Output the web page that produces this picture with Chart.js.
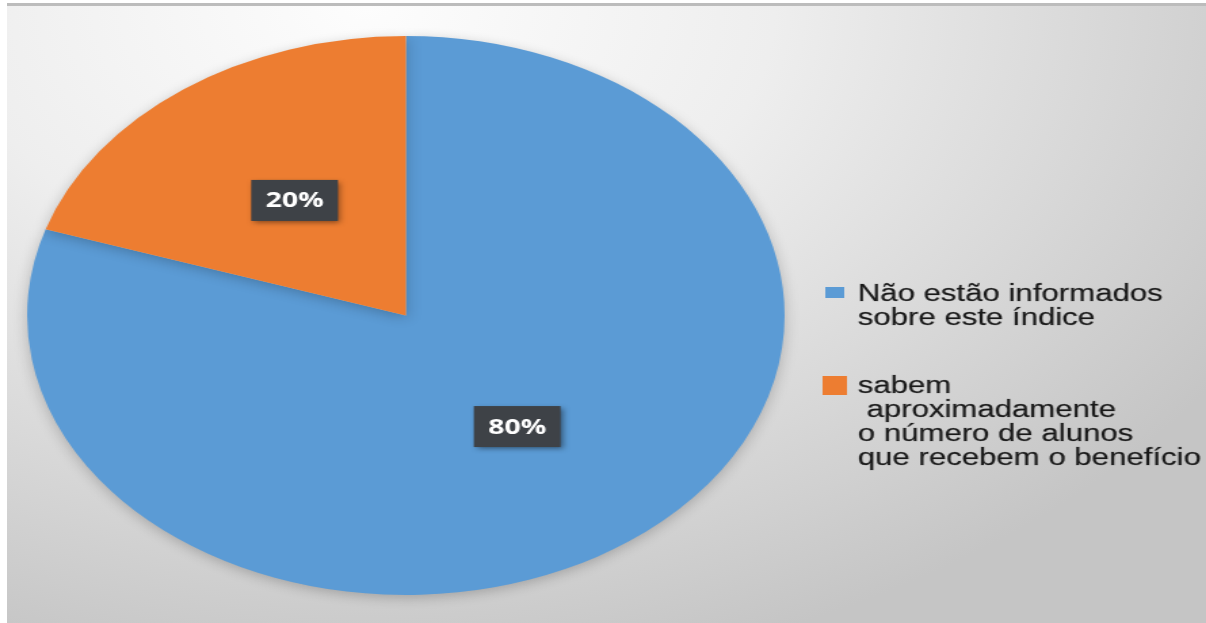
<!DOCTYPE html>
<html>
<head>
<meta charset="utf-8">
<script src="https://cdn.jsdelivr.net/npm/chart.js@4/dist/chart.umd.min.js"></script>
<style>
  html, body { margin: 0; padding: 0; background: #fff; overflow: hidden; }
  #frame {
    position: absolute; left: 7px; top: 3px; width: 1199px; height: 620px;
    border-top: 3px solid #bcbcbc;
    background: radial-gradient(ellipse 85% 110% at 30% 0%, #fdfdfd 0%, #eeeeee 40%, #d6d6d6 75%, #c5c5c5 100%);
  }
  /* the original picture was stretched sideways, so the chart is drawn narrow and widened */
  #wrap {
    position: absolute; left: 0; top: 0; width: 890px; height: 623px;
    transform: scaleX(1.3551); transform-origin: 0 0;
  }
</style>
</head>
<body>
<div id="frame"></div>
<div id="wrap"><canvas id="pie" width="890" height="623"></canvas></div>
<script>
'use strict';

// ── Data ─────────────────────────────────────────────────
const categories = [
  ['Não estão informados', 'sobre este índice'],
  ['sabem', ' aproximadamente', 'o número de alunos', 'que recebem o benefício'],
];
const values  = [80, 20];
const colors  = ['#5B9BD5', '#ED7D31'];

// ── Soft shadow under the pie ────────────────────────────
const pieShadow = {
  id: 'pieShadow',
  beforeDatasetsDraw(chart) {
    const ctx = chart.ctx;
    ctx.save();
    ctx.shadowColor = 'rgba(0,0,0,0.22)';
    ctx.shadowBlur = 12;
    ctx.shadowOffsetY = 3;
  },
  afterDatasetsDraw(chart) {
    chart.ctx.restore();
  },
};

// ── Percentage labels in dark boxes ──────────────────────
const boxLabels = {
  id: 'boxLabels',
  afterDatasetsDraw(chart) {
    const ctx   = chart.ctx;
    const total = values.reduce((a, b) => a + b, 0);
    chart.getDatasetMeta(0).data.forEach((arc, i) => {
      const mid = (arc.startAngle + arc.endAngle) / 2;
      const r   = arc.outerRadius * 0.5;
      const x   = arc.x + Math.cos(mid) * r;
      const y   = arc.y + Math.sin(mid) * r - 2;
      const w = 64, h = 41;
      ctx.save();
      ctx.shadowColor = 'rgba(0,0,0,0.45)';
      ctx.shadowBlur = 5;
      ctx.shadowOffsetX = 2;
      ctx.shadowOffsetY = 2;
      ctx.fillStyle = '#3e4247';
      ctx.fillRect(x - w / 2, y - h / 2, w, h);
      ctx.restore();
      ctx.save();
      ctx.fillStyle = '#ffffff';
      ctx.font = "bold 21px 'Open Sans', sans-serif";
      ctx.textAlign = 'center';
      ctx.textBaseline = 'middle';
      ctx.fillText(Math.round(values[i] / total * 100) + '%', x, y + 1);
      ctx.restore();
    });
  },
};

// ── Legend on the right ──────────────────────────────────
const sideLegend = {
  id: 'sideLegend',
  afterDraw(chart) {
    const ctx = chart.ctx;
    const tx = 633;
    const starts = [301, 393];
    const boxes = [
      { x: 609, y: 287, w: 14, h: 11 },
      { x: 607, y: 376, w: 18, h: 19 },
    ];
    ctx.save();
    ctx.font = "23px 'Liberation Sans', Arial, sans-serif";
    ctx.textBaseline = 'alphabetic';
    ctx.textAlign = 'left';
    categories.forEach((lines, i) => {
      const b = boxes[i];
      ctx.fillStyle = colors[i];
      ctx.fillRect(b.x, b.y, b.w, b.h);
      ctx.fillStyle = '#1a1a1a';
      ctx.strokeStyle = 'rgba(26,26,26,0.35)';
      ctx.lineWidth = 0.6;
      lines.forEach((line, j) => {
        ctx.fillText(line, tx, starts[i] + j * 24);
        ctx.strokeText(line, tx, starts[i] + j * 24);
      });
    });
    ctx.restore();
  },
};

// ── Chart ────────────────────────────────────────────────
new Chart(document.getElementById('pie'), {
  type: 'pie',
  data: {
    labels: categories,
    datasets: [{
      data: values,
      backgroundColor: colors,
      borderWidth: 0,
    }],
  },
  options: {
    responsive: false,
    animation: false,
    layout: { padding: { left: 20, right: 311, top: 36, bottom: 28 } },
    plugins: {
      legend: { display: false },
      tooltip: { enabled: false },
    },
  },
  plugins: [pieShadow, boxLabels, sideLegend],
});
</script>
</body>
</html>
